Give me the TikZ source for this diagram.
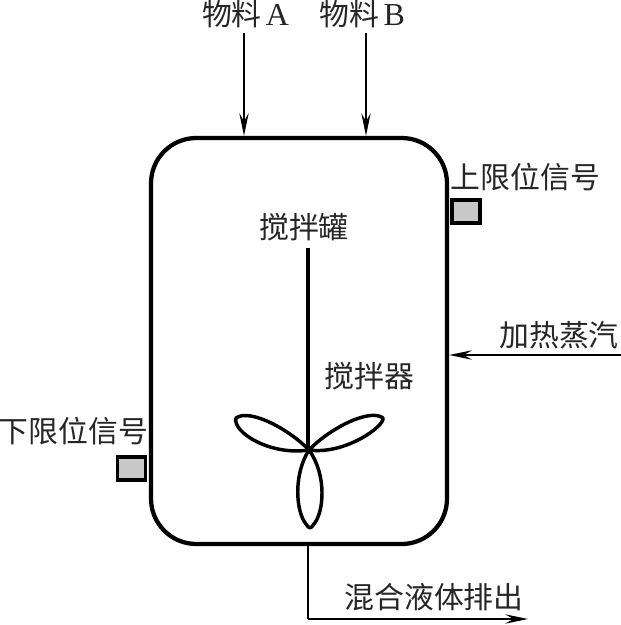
\documentclass[tikz,border=0pt]{standalone}
\usepackage{fontspec}
\setmainfont{Liberation Serif}
\newfontfamily\cjk{Noto Sans CJK SC}
\usetikzlibrary{arrows.meta}
\definecolor{sensorgray}{HTML}{C8C8C8}
\tikzset{
  lbl/.style={inner sep=0pt,font=\fontsize{22.4pt}{25pt}\selectfont\cjk,text=black!85},
  tankbox/.style={draw,line width=3.2pt,rounded corners=34pt,minimum width=222pt,minimum height=304.5pt,inner sep=0pt},
  sensor/.style={draw,fill=sensorgray,line width=2.8pt,minimum width=21pt,minimum height=17pt,inner sep=0pt},
  flow/.style={line width=1.3pt,-{Stealth[length=17pt,width=7pt,inset=6pt]}},
  shaft/.style={line width=2.8pt},
  petal/.style={line width=2.6pt,line join=round},
  pipe/.style={line width=1.3pt}
}
\begin{document}
\begin{tikzpicture}[x=0.75pt,y=-0.75pt]
\useasboundingbox (0,0) rectangle (621,625);
\node[tankbox] (tank) at (299,341) {};
\node[sensor] (upper) at (466,211.5) {};
\node[sensor] (lower) at (131.5,468.5) {};
\node[lbl] (tA) at (245.5,14) {物料\hspace{3pt}{\rmfamily\fontsize{24pt}{25pt}\selectfont A}};
\node[lbl] (tB) at (362.5,14) {物料\hspace{3pt}{\rmfamily\fontsize{24pt}{25pt}\selectfont B}};
\node[lbl] (tUp) at (525.5,177) {上限位信号};
\node[lbl] (tLow) at (73.5,431) {下限位信号};
\node[lbl] (tTank) at (304,227) {搅拌罐};
\node[lbl] (tMix) at (369.5,376) {搅拌器};
\node[lbl] (tHeat) at (559,335) {加热蒸汽};
\node[lbl] (tOut) at (434,597) {混合液体排出};
\coordinate (a0) at (244,33);
\coordinate (b0) at (366,33);
\coordinate (h0) at (621,355);
\coordinate (s0) at (308,248);
\coordinate (hub) at (309,450);
\coordinate (o1) at (308,619);
\coordinate (o2) at (528,619);
\draw[flow] (a0) -- (a0 |- tank.north);
\draw[flow] (b0) -- (b0 |- tank.north);
\draw[flow] (h0) -- (h0 -| tank.east);
\draw[shaft] (s0) -- (s0 |- hub);
\draw[petal] (hub) .. controls (290,430) and (250,408) .. (236,418) .. controls (232,432) and (270,456) .. (hub);
\draw[petal] (hub) .. controls (330,428) and (370,408) .. (383,418) .. controls (385,426) and (345,455) .. (hub);
\draw[petal] (hub) .. controls (293,475) and (296,512) .. (306,524) .. controls (309,529) and (311,529) .. (314,524) .. controls (324,512) and (327,475) .. (hub);
\draw[pipe] (o1 |- tank.south) -- (o1);
\draw[flow] (o1) -- (o2);
\end{tikzpicture}
\end{document}
